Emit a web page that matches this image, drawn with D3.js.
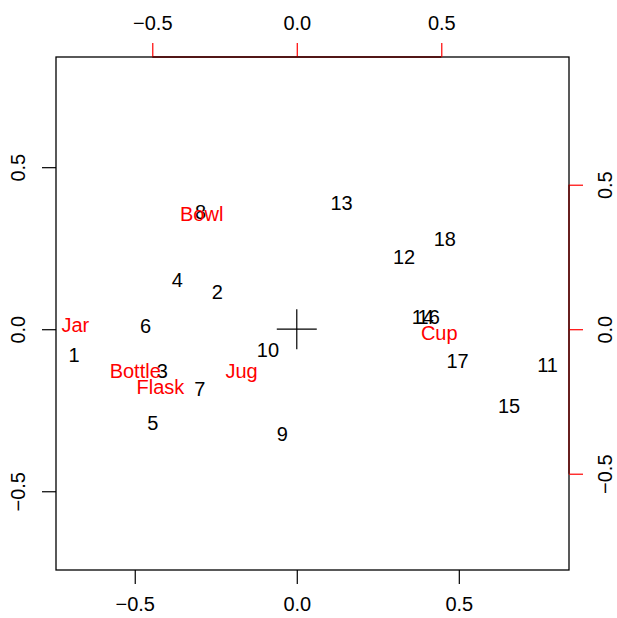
<!DOCTYPE html>
<html><head><meta charset="utf-8">
<script src="https://cdn.jsdelivr.net/npm/d3@7"></script>
<style>body{margin:0;background:#fff}text{font-family:"Liberation Sans",Arial,sans-serif}</style>
</head><body><svg id="c" width="617" height="618"></svg>
<script>
const rowLabels = ["1","2","3","4","5","6","7","8","9","10","11","12","13","14","15","16","17","18"];
const rowX = [-0.687,-0.245,-0.415,-0.369,-0.444,-0.467,-0.299,-0.297,-0.045,-0.089,0.774,0.331,0.138,0.389,0.655,0.407,0.496,0.457];
const rowY = [-0.080,0.115,-0.129,0.153,-0.289,0.009,-0.186,0.362,-0.323,-0.063,-0.111,0.223,0.391,0.037,-0.238,0.037,-0.098,0.277];
const colLabels = ["Jar","Bowl","Bottle","Flask","Jug","Cup"];
const colX = [-0.766,-0.329,-0.559,-0.472,-0.191,0.493];
const colY = [0.014,0.400,-0.144,-0.199,-0.144,-0.013];
const ticks = [-0.5, 0.0, 0.5];

const svg = d3.select("#c");
const L = 56, R = 569, T = 57, B = 570;
const lim = [-0.743, 0.84];
const x = d3.scaleLinear().domain(lim).range([L, R]);
const y = d3.scaleLinear().domain(lim).range([B, T]);
const k = (R - L) / (lim[1] - lim[0]) / 289;
const limC = [lim[0] * k, lim[1] * k];
const x2 = d3.scaleLinear().domain(limC).range([L, R]);
const y2 = d3.scaleLinear().domain(limC).range([B, T]);
const fmt = d3.format(".1f");
const fs = 20;
const red = "#ff0000";

// box
svg.append("rect").attr("x", L).attr("y", T).attr("width", R - L).attr("height", B - T)
  .attr("fill", "none").attr("stroke", "#000").attr("stroke-width", 1.3);

function styleAxis(g, col) {
  g.select(".domain").remove();
  g.selectAll("line").attr("stroke", col).attr("stroke-width", 1.2);
  g.selectAll("text").attr("font-size", fs).attr("fill", "#000").style("font-family", "Liberation Sans, Arial, sans-serif");
}
const lab = v => fmt(v).replace("-", "\u2212");
// bottom
const gb = svg.append("g").attr("transform", `translate(0,${B})`)
  .call(d3.axisBottom(x).tickValues(ticks).tickFormat(lab).tickSizeOuter(0).tickSize(14).tickPadding(13));
styleAxis(gb, "#000");
// left
const gl = svg.append("g").attr("transform", `translate(${L},0)`)
  .call(d3.axisLeft(y).tickValues(ticks).tickFormat(lab).tickSizeOuter(0).tickSize(14));
styleAxis(gl, "#000");
gl.selectAll(".tick text").attr("transform", "rotate(-90)").attr("x", 0).attr("y", -38).attr("dy", "0.35em").attr("text-anchor", "middle");
// top (red)
const gt = svg.append("g").attr("transform", `translate(0,${T})`)
  .call(d3.axisTop(x2).tickValues(ticks).tickFormat(lab).tickSizeOuter(0).tickSize(14).tickPadding(13));
styleAxis(gt, red);
gt.append("line").attr("x1", x2(ticks[0])).attr("x2", x2(ticks[2])).attr("y1", 0).attr("y2", 0).attr("stroke", "#500000").attr("stroke-width", 1.3);
// right (red)
const gr = svg.append("g").attr("transform", `translate(${R},0)`)
  .call(d3.axisRight(y2).tickValues(ticks).tickFormat(lab).tickSizeOuter(0).tickSize(14));
styleAxis(gr, red);
gr.append("line").attr("y1", y2(ticks[0])).attr("y2", y2(ticks[2])).attr("x1", 0).attr("x2", 0).attr("stroke", "#700000").attr("stroke-width", 1.3);
gr.selectAll(".tick text").attr("transform", "rotate(-90)").attr("x", 0).attr("y", 36).attr("dy", "0.35em").attr("text-anchor", "middle");

// origin cross
svg.append("line").attr("x1", x(0) - 20).attr("x2", x(0) + 20).attr("y1", y(0)).attr("y2", y(0)).attr("stroke", "#000").attr("stroke-width", 1.2);
svg.append("line").attr("x1", x(0)).attr("x2", x(0)).attr("y1", y(0) - 20).attr("y2", y(0) + 20).attr("stroke", "#000").attr("stroke-width", 1.2);

// rows
svg.append("g").selectAll("text").data(rowLabels).join("text")
  .attr("x", (d, i) => x(rowX[i])).attr("y", (d, i) => y(rowY[i]))
  .attr("text-anchor", "middle").attr("dy", "0.35em").attr("font-size", fs).attr("fill", "#000").text(d => d);
// columns
svg.append("g").selectAll("text").data(colLabels).join("text")
  .attr("x", (d, i) => x2(colX[i])).attr("y", (d, i) => y2(colY[i]))
  .attr("text-anchor", "middle").attr("dy", "0.35em").attr("font-size", fs).attr("fill", red).text(d => d);
</script></body></html>
